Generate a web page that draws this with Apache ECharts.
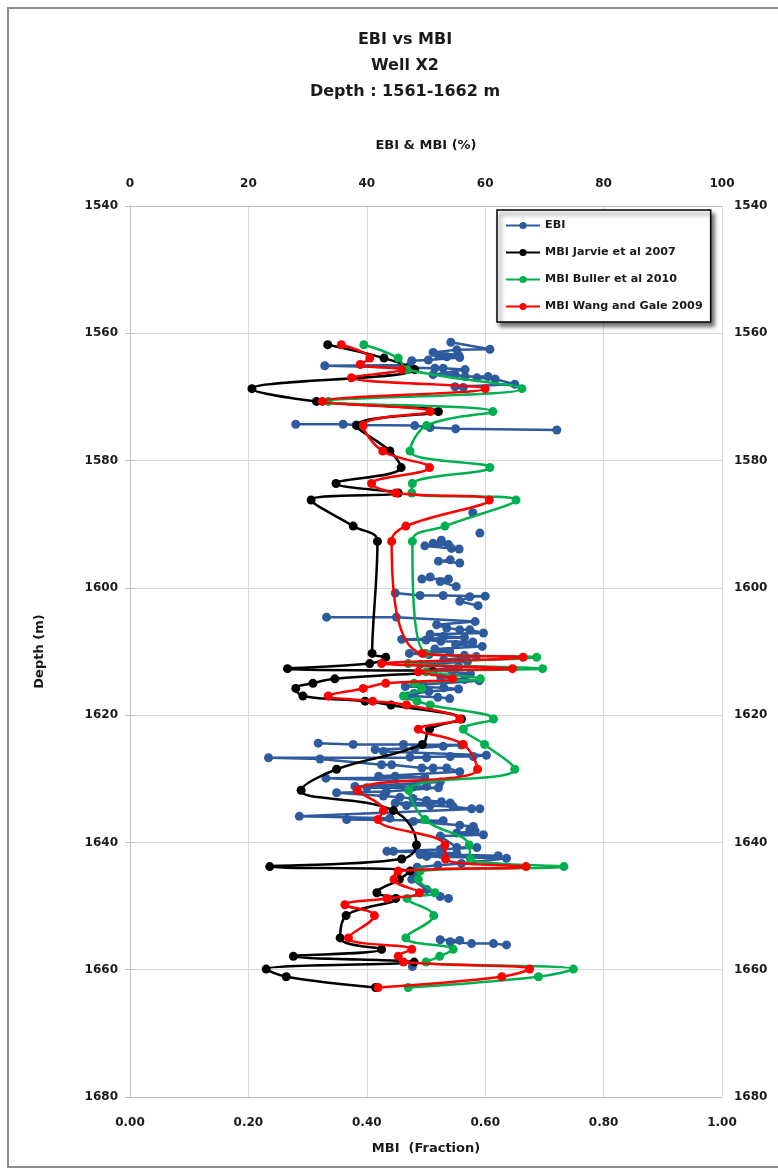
<!DOCTYPE html>
<html>
<head>
<meta charset="utf-8">
<script src="https://cdn.jsdelivr.net/npm/echarts@6/dist/echarts.min.js"></script>
<style>
  html, body { margin: 0; padding: 0; background: #fff; }
  #chart { width: 778px; height: 1171px; }
</style>
</head>
<body>
<div id="chart"></div>
<script>
// Depth ticks (m) and fraction / percent ticks
const depthTicks = [1540, 1560, 1580, 1600, 1620, 1640, 1660, 1680];
const fractionTicks = [0, 0.2, 0.4, 0.6, 0.8, 1.0];
const percentTicks = [0, 20, 40, 60, 80, 100];

// MBI sample depths (m), shared by the three mineralogy-based indices
const mbiDepth = [1561.8, 1563.9, 1564.9, 1565.7, 1567.0, 1568.7, 1570.7, 1572.3, 1574.5, 1578.5,
  1581.1, 1583.6, 1585.1, 1586.2, 1590.3, 1592.7, 1610.3, 1610.9, 1611.9, 1612.7,
  1613.2, 1614.3, 1615.0, 1615.8, 1617.0, 1617.8, 1618.4, 1620.6, 1622.2, 1624.6,
  1628.5, 1631.8, 1635.0, 1636.4, 1640.4, 1642.6, 1643.8, 1644.5, 1645.8, 1647.9,
  1648.8, 1649.8, 1651.5, 1655.0, 1656.8, 1657.9, 1658.8, 1659.9, 1661.1, 1662.8];

// MBI (fraction), Jarvie et al 2007
const mbiJarvie = [0.334, 0.429, null, 0.481, null, 0.206, 0.315, 0.521, 0.383, 0.439,
  0.458, 0.348, 0.453, 0.306, 0.377, 0.418, 0.409, 0.432, 0.405, 0.266,
  0.512, 0.346, 0.309, 0.280, 0.292, 0.397, 0.441, 0.560, 0.506, 0.494,
  0.349, 0.289, 0.445, null, 0.484, 0.459, 0.236, 0.473, 0.455, 0.417,
  0.449, null, 0.365, 0.355, 0.425, 0.276, 0.480, 0.230, 0.264, 0.415];

// MBI (fraction), Buller et al 2010
const mbiBuller = [0.395, 0.453, null, 0.468, null, 0.662, 0.335, 0.613, 0.501, 0.473,
  0.608, 0.477, 0.476, 0.652, 0.532, 0.477, 0.500, 0.687, 0.470, 0.697,
  0.500, 0.592, 0.480, 0.493, 0.462, 0.485, 0.507, 0.614, 0.563, 0.599,
  0.650, 0.471, null, 0.498, 0.573, 0.575, 0.733, 0.490, 0.487, 0.515,
  0.468, null, 0.513, 0.466, 0.546, 0.523, 0.500, 0.749, 0.690, 0.470];

// MBI (fraction), Wang and Gale 2009
const mbiWang = [0.357, 0.405, 0.389, 0.459, 0.374, 0.600, 0.325, 0.507, 0.394, 0.427,
  0.506, 0.408, 0.449, 0.607, 0.466, 0.442, 0.494, 0.664, 0.425, 0.646,
  0.487, 0.545, 0.432, 0.394, 0.335, 0.410, 0.467, 0.557, 0.487, 0.563,
  0.587, 0.384, 0.428, 0.419, 0.532, 0.533, 0.669, 0.453, 0.446, 0.489,
  0.434, 0.363, 0.413, 0.369, 0.476, 0.453, 0.462, 0.675, 0.628, 0.419];

// EBI log samples: depth (m) and EBI (%); null marks a gap in the log
const ebiDepth = [
  1561.4, 1562.5, 1562.6, 1563.0, 1563.4, 1563.5, 1563.7, 1563.8, 1564.2, 1564.3,
  1565.0, 1565.1, 1565.5, 1565.5, 1565.7, 1566.5, 1566.5, 1566.8, 1566.8, 1567.0,
  1567.2, 1568.0, 1568.4, 1568.5, null,
  1574.3, 1574.3, 1574.4, 1574.5, 1574.8, 1575.0, 1575.2, null,
  1588.2, null,
  1591.4, null,
  1592.5, 1593.0, 1593.2, 1593.4, 1593.8, 1593.9, null,
  1595.6, 1595.8, 1596.1, null,
  1598.3, 1598.6, 1598.6, 1599.0, 1599.8, null,
  1600.8, 1601.2, 1601.2, 1601.3, 1601.4, 1602.1, 1602.8, null,
  1604.6, 1604.6, 1605.3, 1605.8, 1606.3, 1606.6, 1606.6, 1607.1, 1607.3, 1607.6,
  1607.8, 1608.1, 1608.2, 1608.4, 1608.5, 1608.9, 1609.2, 1609.6, 1610.0, 1610.3,
  1610.5, 1610.6, 1610.8, 1611.3, 1611.6, 1612.0, 1612.4, 1612.9, 1613.2, 1613.5,
  1614.0, 1614.4, 1614.6, 1615.2, 1615.5, 1615.7, 1615.9, 1616.3, 1616.6, 1617.0,
  1617.2, 1617.4, null,
  1624.4, 1624.6, 1624.6, 1624.7, 1624.9, 1625.2, 1625.4, 1625.7, 1626.3, 1626.5,
  1626.5, 1626.6, 1626.7, 1626.7, 1626.9, 1627.8, 1627.8, 1628.3, 1628.3, 1628.3,
  1628.9, 1629.6, 1629.6, 1629.8, 1629.9, 1630.5, 1631.2, 1631.2, 1631.3, 1631.4,
  1631.4, 1632.0, 1632.2, 1632.7, 1632.9, 1633.1, 1633.4, 1633.6, 1633.8, 1633.8,
  1634.2, 1634.2, 1634.4, 1634.7, 1634.7, 1635.9, 1636.2, 1636.4, 1636.6, 1636.7,
  1637.3, 1637.5, 1638.0, 1638.2, 1638.5, 1638.8, 1639.0, 1640.8, 1640.8, 1641.1,
  1641.4, 1641.4, 1641.7, 1641.9, 1641.9, 1642.1, 1642.2, 1642.5, 1643.3, 1643.6,
  1643.9, 1645.3, 1645.8, 1647.4, 1648.5, 1648.8, null,
  1655.3, 1655.4, 1655.6, 1655.9, 1655.9, 1656.1, null,
  1659.5];
const ebiValue = [
  54.2, 60.8, 55.2, 51.2, 55.5, 52.1, 53.5, 55.7, 50.4, 47.6,
  47.3, 32.9, 51.5, 52.9, 56.6, 51.2, 54.9, 56.6, 60.5, 58.6,
  61.7, 65.0, 54.9, 56.3, null,
  28.0, 36.0, 38.2, 48.1, 50.7, 55.0, 72.1, null,
  57.9, null,
  59.1, null,
  52.6, 51.2, 53.8, 49.8, 54.3, 55.6, null,
  54.1, 52.1, 55.7, null,
  50.7, 49.3, 53.8, 52.4, 55.1, null,
  44.8, 49.0, 52.9, 60.0, 57.4, 55.7, 58.8, null,
  33.2, 45.0, 58.3, 51.8, 53.5, 55.7, 57.4, 59.7, 50.7, 53.0,
  56.5, 45.9, 50.0, 52.5, 57.9, 55.0, 59.5, 51.5, 54.0, 47.2,
  50.5, 56.5, 58.5, 53.0, 57.0, 49.0, 55.5, 51.0, 54.5, 57.5,
  52.5, 56.5, 59.0, 49.5, 46.5, 53.0, 55.5, 50.5, 48.0, 47.0,
  52.0, 54.0, null,
  31.8, 37.7, 46.2, 56.0, 52.9, 48.1, 41.4, 42.8, 60.2, 58.0,
  54.1, 47.3, 50.1, 23.4, 32.1, 42.5, 44.2, 49.3, 51.2, 53.5,
  55.7, 42.0, 44.8, 49.8, 33.1, 52.4, 38.0, 50.1, 47.8, 40.0,
  52.1, 43.3, 34.9, 42.8, 45.6, 47.8, 50.1, 52.6, 54.1, 44.8,
  46.7, 50.7, 54.6, 57.7, 59.1, 28.6, 43.9, 36.6, 52.9, 47.9,
  55.7, 58.0, 57.4, 58.3, 55.2, 59.7, 52.4, 55.2, 58.6, 52.4,
  44.5, 43.4, 55.2, 49.0, 52.6, 62.2, 50.1, 63.6, 56.0, 52.0,
  48.5, 48.1, 47.6, 50.1, 52.4, 53.8, null,
  52.4, 55.7, 54.1, 57.7, 61.4, 63.6, null,
  47.7];

const seriesNames = ['EBI', 'MBI Jarvie et al 2007', 'MBI Buller et al 2010', 'MBI Wang and Gale 2009'];
const seriesColors = ['#2E5A9E', '#000000', '#00B050', '#FF0000'];

const FONT = 'DejaVu Sans';
const labelStyle = { fontFamily: FONT, fontWeight: 'bold', fontSize: 12, color: '#1a1a1a' };

function mbiPairs(values) {
  const out = [];
  values.forEach((v, i) => { if (v != null) out.push([v, mbiDepth[i]]); });
  return out;
}
const ebiPairs = ebiDepth.map((d, i) => (d == null || ebiValue[i] == null) ? ['-', '-'] : [ebiValue[i], d]);

const gridLine = { show: true, lineStyle: { color: '#d9d9d9', width: 1 } };
const axisLine = { show: true, lineStyle: { color: '#bfbfbf', width: 1 } };

function depthAxis(position) {
  return {
    type: 'value', position: position, inverse: true,
    min: depthTicks[0], max: depthTicks[depthTicks.length - 1], interval: depthTicks[1] - depthTicks[0],
    axisLine: axisLine,
    axisTick: { show: true, length: 5, lineStyle: { color: '#bfbfbf' } },
    splitLine: position === 'left' ? gridLine : { show: false },
    axisLabel: Object.assign({ margin: 12, formatter: v => String(v) }, labelStyle)
  };
}

const chart = echarts.init(document.getElementById('chart'), null, { renderer: 'canvas' });

const lineSeries = (name, idx, data, xIdx, smooth) => ({
  name: name, type: 'line', xAxisIndex: xIdx, yAxisIndex: 0,
  data: data, smooth: smooth, connectNulls: false,
  symbol: 'circle', symbolSize: 9, showSymbol: true,
  lineStyle: { color: seriesColors[idx], width: 2.5 },
  itemStyle: { color: seriesColors[idx] },
  emphasis: { disabled: true },
  animation: false, z: 2 + idx
});

chart.setOption({
  backgroundColor: '#ffffff',
  animation: false,
  title: {
    text: 'EBI vs MBI\nWell X2\nDepth : 1561-1662 m',
    left: 400, top: 22, textAlign: 'center',
    textStyle: { fontFamily: FONT, fontWeight: 'bold', fontSize: 16, lineHeight: 26, color: '#1a1a1a' }
  },
  legend: {
    data: seriesNames,
    orient: 'vertical', left: 497, top: 210,
    padding: [8, 8, 8, 8], itemGap: 12, itemWidth: 34, itemHeight: 9,
    backgroundColor: '#ffffff', borderColor: '#000000', borderWidth: 1.5,
    shadowColor: 'rgba(0,0,0,0.55)', shadowBlur: 4, shadowOffsetX: 3, shadowOffsetY: 4,
    textStyle: { fontFamily: FONT, fontWeight: 'bold', fontSize: 11.2, color: '#1a1a1a', lineHeight: 15 },
    selectedMode: false
  },
  grid: { left: 130, right: 56, top: 206, bottom: 74, containLabel: false },
  xAxis: [
    {
      type: 'value', position: 'bottom',
      min: fractionTicks[0], max: fractionTicks[fractionTicks.length - 1], interval: fractionTicks[1] - fractionTicks[0],
      name: 'MBI  (Fraction)', nameLocation: 'middle', nameGap: 45,
      nameTextStyle: { fontFamily: FONT, fontWeight: 'bold', fontSize: 13, color: '#1a1a1a' },
      axisLine: axisLine, axisTick: { show: false },
      splitLine: gridLine,
      axisLabel: Object.assign({ margin: 20, formatter: v => v.toFixed(2) }, labelStyle)
    },
    {
      type: 'value', position: 'top',
      min: percentTicks[0], max: percentTicks[percentTicks.length - 1], interval: percentTicks[1] - percentTicks[0],
      name: 'EBI & MBI (%)', nameLocation: 'middle', nameGap: 54,
      nameTextStyle: { fontFamily: FONT, fontWeight: 'bold', fontSize: 13, color: '#1a1a1a' },
      axisLine: axisLine, axisTick: { show: false },
      splitLine: { show: false },
      axisLabel: Object.assign({ margin: 16 }, labelStyle)
    }
  ],
  yAxis: [
    Object.assign(depthAxis('left'), {
      name: 'Depth (m)', nameLocation: 'middle', nameGap: 84, nameRotate: 90,
      nameTextStyle: { fontFamily: FONT, fontWeight: 'bold', fontSize: 13, color: '#1a1a1a' }
    }),
    depthAxis('right')
  ],
  graphic: [{
    type: 'rect', silent: true, z: -10,
    shape: { x: 8, y: 8, width: 800, height: 1159 },
    style: { fill: 'none', stroke: '#8c8c8c', lineWidth: 2 }
  }],
  series: [
    lineSeries(seriesNames[0], 0, ebiPairs, 1, false),
    lineSeries(seriesNames[1], 1, mbiPairs(mbiJarvie), 0, 0.4),
    lineSeries(seriesNames[2], 2, mbiPairs(mbiBuller), 0, 0.4),
    lineSeries(seriesNames[3], 3, mbiPairs(mbiWang), 0, 0.4)
  ]
});
</script>
</body>
</html>
